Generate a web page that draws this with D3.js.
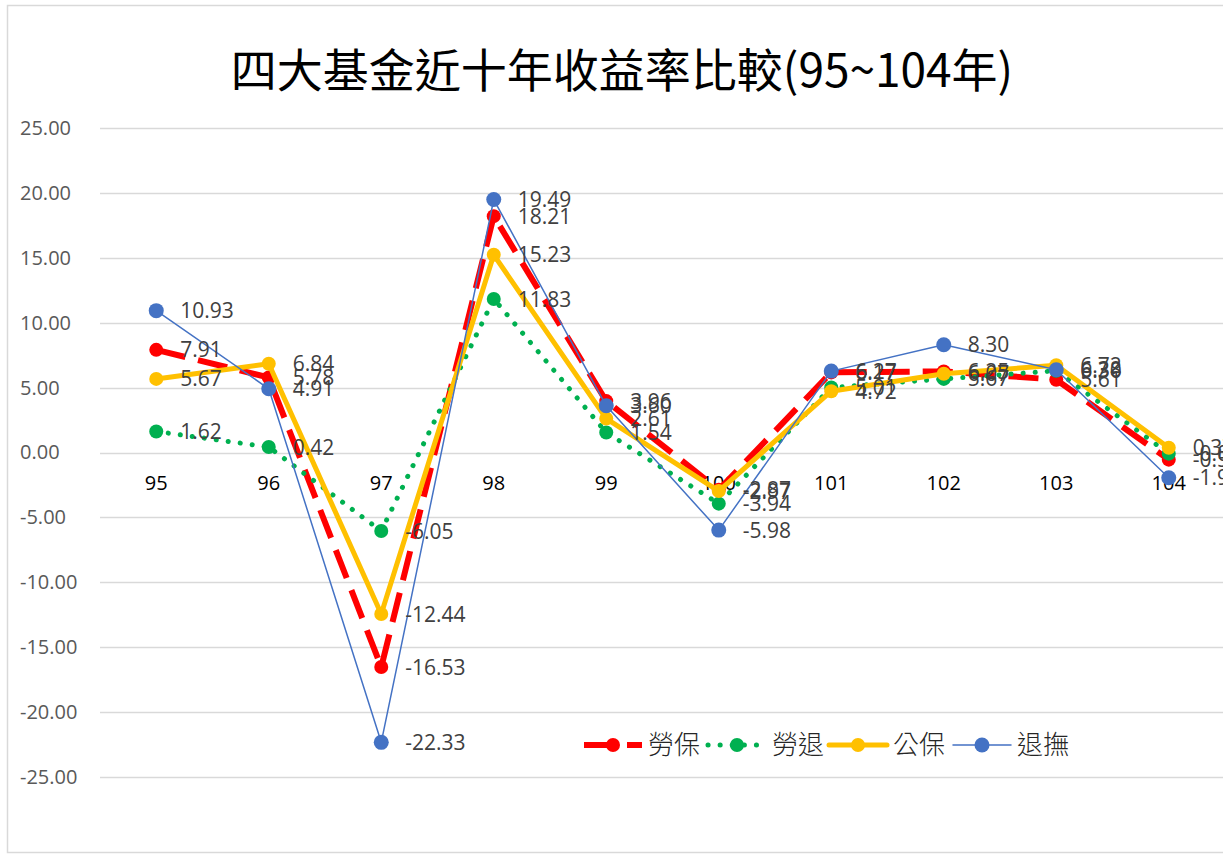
<!DOCTYPE html>
<html>
<head>
<meta charset="utf-8">
<script src="https://cdn.jsdelivr.net/npm/d3@7"></script>
<style>
  body { margin: 0; background: #fff; }
  svg { display: block; }
</style>
</head>
<body>
<svg id="chart" width="1223" height="855"></svg>
<script>
// Data
var years = ["95", "96", "97", "98", "99", "100", "101", "102", "103", "104"];
var laobao = [7.91, 5.78, -16.53, 18.21, 3.96, -2.87, 6.17, 6.25, 5.61, -0.55];
var laotui = [1.62, 0.42, -6.05, 11.83, 1.54, -3.94, 5.01, 5.67, 6.30, -0.09];
var gongbao = [5.67, 6.84, -12.44, 15.23, 2.61, -2.97, 4.72, 6.07, 6.72, 0.37];
var tuifu = [10.93, 4.91, -22.33, 19.49, 3.60, -5.98, 6.27, 8.30, 6.38, -1.94];
var yTicks = [25, 20, 15, 10, 5, 0, -5, -10, -15, -20, -25];

var series = [
  {name: "勞保", values: laobao, color: "#ff0000", width: 6, dash: "30,13", cap: "butt", r: 7},
  {name: "勞退", values: laotui, color: "#00b050", width: 5, dash: "0.1,12", cap: "round", r: 7},
  {name: "公保", values: gongbao, color: "#ffc000", width: 5, dash: null, cap: "round", r: 7},
  {name: "退撫", values: tuifu, color: "#4472c4", width: 1.5, dash: null, cap: "round", r: 7.5}
];

var fmt = function (d) { return d.toFixed(2); };

var svg = d3.select("#chart");

// outer chart border
svg.append("rect")
  .attr("x", 7.5).attr("y", 5.5)
  .attr("width", 1240).attr("height", 847)
  .attr("fill", "none").attr("stroke", "#d9d9d9").attr("stroke-width", 1.5);

var x = d3.scaleBand().domain(years).range([100, 1225]);
var y = d3.scaleLinear().domain([-25, 25]).range([777, 128]);

// title
svg.append("text")
  .attr("x", 622).attr("y", 87)
  .attr("text-anchor", "middle")
  .attr("font-family", "'Noto Sans CJK TC', sans-serif")
  .attr("font-size", 46)
  .attr("fill", "#000")
  .text("四大基金近十年收益率比較(95~104年)");

// gridlines
svg.append("g").selectAll("line")
  .data(yTicks).enter().append("line")
  .attr("x1", 100).attr("x2", 1225)
  .attr("y1", function (d) { return Math.round(y(d)) + 0.5; })
  .attr("y2", function (d) { return Math.round(y(d)) + 0.5; })
  .attr("stroke", "#d9d9d9").attr("stroke-width", 1.5);

// y axis labels
var yAxis = d3.axisLeft(y).tickValues(yTicks).tickSize(0).tickFormat(fmt);
var gy = svg.append("g").attr("transform", "translate(20,0)").call(yAxis);
gy.select(".domain").remove();
gy.selectAll("text")
  .attr("text-anchor", "start").attr("x", 0)
  .attr("font-family", "'Open Sans', sans-serif").attr("font-size", 20).attr("fill", "#595959");

// x axis labels at zero line
var xAxis = d3.axisBottom(x).tickSize(0);
var gx = svg.append("g").attr("transform", "translate(0," + (y(0) + 20) + ")").call(xAxis);
gx.select(".domain").remove();
gx.selectAll("text")
  .attr("font-family", "'Open Sans', sans-serif").attr("font-size", 20).attr("fill", "#000");

var cx = function (d, i) { return x(years[i]) + x.bandwidth() / 2; };

var line = d3.line()
  .x(function (d, i) { return x(years[i]) + x.bandwidth() / 2; })
  .y(function (d) { return y(d); });

// lines and markers, in series order
series.forEach(function (s) {
  var g = svg.append("g");
  g.append("path")
    .datum(s.values)
    .attr("d", line)
    .attr("fill", "none")
    .attr("stroke", s.color)
    .attr("stroke-width", s.width)
    .attr("stroke-dasharray", s.dash)
    .attr("stroke-linecap", s.cap)
    .attr("stroke-linejoin", "round");
  g.selectAll("circle")
    .data(s.values).enter().append("circle")
    .attr("cx", cx)
    .attr("cy", function (d) { return y(d); })
    .attr("r", s.r)
    .attr("fill", s.color);
});

// data labels
series.forEach(function (s) {
  svg.append("g").selectAll("text")
    .data(s.values).enter().append("text")
    .attr("x", function (d, i) { return cx(d, i) + 24; })
    .attr("y", function (d) { return y(d); })
    .attr("dy", "0.36em")
    .attr("font-family", "'Open Sans', sans-serif")
    .attr("font-size", 21)
    .attr("fill", "#404040")
    .text(fmt);
});

// legend
var legendX = [584, 708, 829, 953];
var legend = svg.append("g");
series.forEach(function (s, i) {
  var lx = legendX[i];
  var ly = 745;
  var g = legend.append("g");
  g.append("line")
    .attr("x1", lx).attr("x2", lx + 58)
    .attr("y1", ly).attr("y2", ly)
    .attr("stroke", s.color)
    .attr("stroke-width", s.width)
    .attr("stroke-dasharray", s.dash)
    .attr("stroke-linecap", s.cap);
  g.append("circle")
    .attr("cx", lx + 29).attr("cy", ly).attr("r", s.r)
    .attr("fill", s.color);
  g.append("text")
    .attr("x", lx + 64).attr("y", ly).attr("dy", "0.36em")
    .attr("font-family", "'Noto Sans CJK TC', sans-serif")
    .attr("font-size", 26)
    .attr("font-weight", 300)
    .attr("fill", "#262626")
    .text(s.name);
});
</script>
</body>
</html>
